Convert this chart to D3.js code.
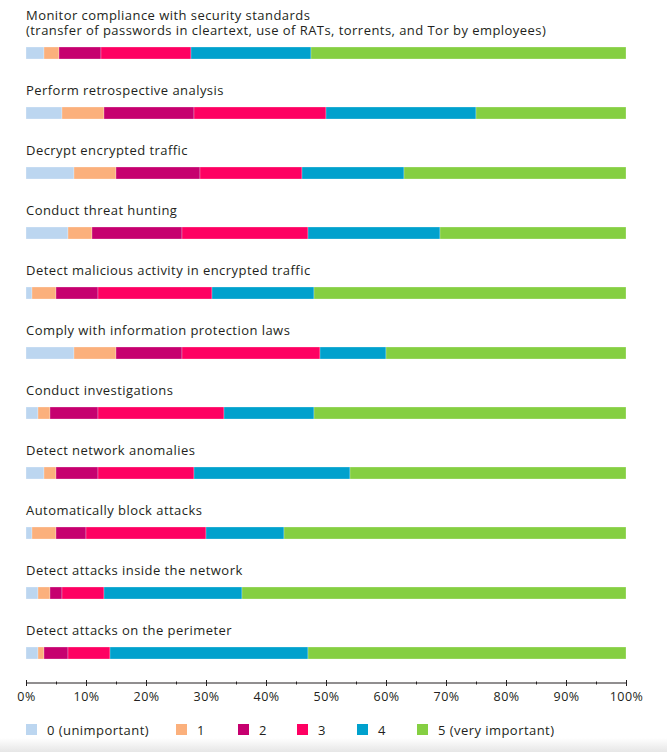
<!DOCTYPE html>
<html>
<head>
<meta charset="utf-8">
<script src="https://cdn.jsdelivr.net/npm/d3@7"></script>
<style>
  body { margin: 0; background: #fff; }
  text { font-family: "Open Sans", "DejaVu Sans", sans-serif; fill: #231f20; }
</style>
</head>
<body>
<div id="chart"></div>
<script>
// tasks (top to bottom), share of answers per importance score, in %
var categories = [
    "Monitor compliance with security standards\n(transfer of passwords in cleartext, use of RATs, torrents, and Tor by employees)",
    "Perform retrospective analysis",
    "Decrypt encrypted traffic",
    "Conduct threat hunting",
    "Detect malicious activity in encrypted traffic",
    "Comply with information protection laws",
    "Conduct investigations",
    "Detect network anomalies",
    "Automatically block attacks",
    "Detect attacks inside the network",
    "Detect attacks on the perimeter"
];
var score0 = [3, 6, 8, 7, 1, 8, 2, 3, 1, 2, 2];
var score1 = [2.5, 7, 7, 4, 4, 7, 2, 2, 4, 2, 1];
var score2 = [7, 15, 14, 15, 7, 11, 8, 7, 5, 2, 4];
var score3 = [15, 22, 17, 21, 19, 23, 21, 16, 20, 7, 7];
var score4 = [20, 25, 17, 22, 17, 11, 15, 26, 13, 23, 33];
var score5 = [52.5, 25, 37, 31, 52, 40, 52, 46, 57, 64, 53];

var legendLabels = ["0 (unimportant)", "1", "2", "3", "4", "5 (very important)"];
var majorTicks = [0, 10, 20, 30, 40, 50, 60, 70, 80, 90, 100];
var minorTicks = [5, 15, 25, 35, 45, 55, 65, 75, 85, 95];

var colors = ["#bcd6f0", "#fbb07c", "#c6006f", "#fe0062", "#00a1cd", "#85cf42"];

var width = 667, height = 752;
var keys = ["s0", "s1", "s2", "s3", "s4", "s5"];
var series = [score0, score1, score2, score3, score4, score5];

var table = categories.map(function (c, i) {
    var row = { name: c };
    keys.forEach(function (k, j) { row[k] = series[j][i]; });
    return row;
});

var stacked = d3.stack().keys(keys)(table);

var svg = d3.select("#chart").append("svg")
    .attr("width", width)
    .attr("height", height);

// soft grey shade along the bottom edge
var grad = svg.append("defs").append("linearGradient")
    .attr("id", "shade").attr("x1", 0).attr("y1", 0).attr("x2", 0).attr("y2", 1);
grad.append("stop").attr("offset", "0%").attr("stop-color", "#fff");
grad.append("stop").attr("offset", "100%").attr("stop-color", "#e6e6e6");
svg.append("rect")
    .attr("x", 0).attr("y", 738).attr("width", width).attr("height", 14)
    .attr("fill", "url(#shade)");

var xScale = d3.scaleLinear().domain([0, 100]).range([26, 626]);
var yScale = d3.scalePoint().domain(categories).range([47, 647]);
var barH = 12;

// category labels, one text per line
var labelLines = [];
categories.forEach(function (c) {
    var lines = c.split("\n");
    lines.forEach(function (l, i) {
        labelLines.push({ cat: c, text: l, back: lines.length - 1 - i });
    });
});
svg.append("g").selectAll("text")
    .data(labelLines)
    .enter().append("text")
    .attr("x", 26)
    .attr("y", function (d) { return yScale(d.cat) - 12 - d.back * 15; })
    .style("font-size", "13px")
    .style("letter-spacing", "0.45px")
    .text(function (d) { return d.text; });

// stacked bars
svg.append("g").selectAll("g")
    .data(stacked)
    .enter().append("g")
    .attr("fill", function (d, i) { return colors[i]; })
    .selectAll("rect")
    .data(function (d) { return d; })
    .enter().append("rect")
    .attr("x", function (d) { return xScale(d[0]); })
    .attr("y", function (d) { return yScale(d.data.name); })
    .attr("width", function (d) { return xScale(d[1]) - xScale(d[0]); })
    .attr("height", barH)
    .attr("stroke", "#fff")
    .attr("stroke-opacity", 0.45)
    .attr("stroke-width", 0.6);

// x axis: major ticks with labels, minor ticks between
var axisY = 683;
var xAxis = d3.axisBottom(xScale)
    .tickValues(majorTicks)
    .tickFormat(function (d) { return d + "%"; })
    .tickSizeOuter(0)
    .tickPadding(3);
var xAxisG = svg.append("g")
    .attr("transform", "translate(0," + axisY + ")")
    .call(xAxis);
xAxisG.select(".domain").attr("stroke", "#231f20").attr("d", "M26,0H626");
xAxisG.selectAll(".tick line").attr("stroke", "#231f20").attr("y1", -3).attr("y2", 3);
xAxisG.selectAll(".tick text")
    .style("font-size", "12.5px")
    .style("letter-spacing", "0.4px")
    .attr("fill", "#231f20");

var minorAxis = d3.axisBottom(xScale)
    .tickValues(minorTicks)
    .tickFormat("")
    .tickSizeOuter(0);
var minorG = svg.append("g")
    .attr("transform", "translate(0," + axisY + ")")
    .call(minorAxis);
minorG.select(".domain").remove();
minorG.selectAll(".tick line").attr("stroke", "#231f20").attr("y1", -1.5).attr("y2", 1.5);

// legend
var legendX = [26, 176, 238, 297, 357, 417];
var legend = svg.append("g").selectAll("g")
    .data(legendLabels)
    .enter().append("g")
    .attr("transform", function (d, i) { return "translate(" + legendX[i] + ",724)"; });
legend.append("rect")
    .attr("width", 11).attr("height", 11)
    .attr("fill", function (d, i) { return colors[i]; });
legend.append("text")
    .attr("x", 21).attr("y", 10.5)
    .style("font-size", "13px")
    .style("letter-spacing", "0.45px")
    .text(function (d) { return d; });
</script>
</body>
</html>
